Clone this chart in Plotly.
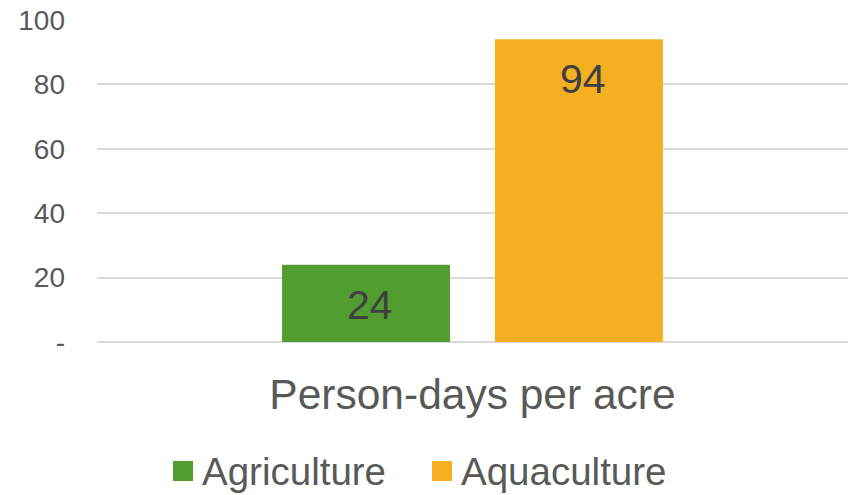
import plotly.graph_objects as go

categories = ["Person-days per acre"]
series_names = ["Agriculture", "Aquaculture"]
agriculture = [24]
aquaculture = [94]
series_values = [agriculture, aquaculture]
series_colors = ["#529D2F", "#F5B021"]
tick_values = [0, 20, 40, 60, 80, 100]
tick_labels = ["-", "20", "40", "60", "80", "100"]

BARGAP = 0.433
BARGROUPGAP = 0.211
FONT = "Liberation Sans, Arial, sans-serif"

fig = go.Figure()
for name, vals, color in zip(series_names, series_values, series_colors):
    fig.add_trace(go.Bar(
        x=categories, y=vals, name=name,
        marker=dict(color=color, line=dict(width=0)),
        showlegend=False,
    ))

# value labels placed just under the top of each bar
slot = (1 - BARGAP) / len(series_names)
for i, vals in enumerate(series_values):
    center = -(1 - BARGAP) / 2 + slot * (i + 0.5)
    for j, v in enumerate(vals):
        fig.add_annotation(
            x=j + center, y=v, xref="x", yref="y",
            text=str(v), showarrow=False,
            yanchor="top", yshift=-15, xshift=4,
            font=dict(family=FONT, size=41, color="#404040"),
        )

# legend drawn as coloured squares with text beside them
legend_items = [(series_names[0], series_colors[0], 173), (series_names[1], series_colors[1], 432)]
W, H = 850, 495
for name, color, px in legend_items:
    fig.add_shape(
        type="rect", xref="paper", yref="paper",
        x0=(px - 97) / 751, x1=(px + 20 - 97) / 751,
        y0=(H - 153 - 481) / 322, y1=(H - 153 - 461) / 322,
        fillcolor=color, line=dict(width=0),
    )
    fig.add_annotation(
        x=(px + 27 - 97) / 751, y=(H - 153 - 471) / 322,
        xref="paper", yref="paper", xanchor="left", yanchor="middle",
        text=name, showarrow=False,
        font=dict(family=FONT, size=38.5, color="#595959"),
    )

fig.update_layout(
    width=W, height=H,
    margin=dict(l=97, r=2, t=20, b=153),
    paper_bgcolor="white", plot_bgcolor="white",
    barmode="group", bargap=BARGAP, bargroupgap=BARGROUPGAP,
    showlegend=False,
    font=dict(family=FONT, color="#595959"),
)
fig.update_xaxes(
    showgrid=False, showline=False, ticks="",
    tickfont=dict(family=FONT, size=42.5, color="#595959"),
    ticklabelstandoff=23,
)
fig.update_yaxes(
    range=[0, 100], tickvals=tick_values, ticktext=tick_labels,
    showgrid=True, gridcolor="#D9D9D9", gridwidth=2,
    zeroline=True, zerolinecolor="#D9D9D9", zerolinewidth=2,
    showline=False, ticks="",
    tickfont=dict(family=FONT, size=28, color="#595959"),
    ticklabelstandoff=31,
)

fig.write_html("out.html")
